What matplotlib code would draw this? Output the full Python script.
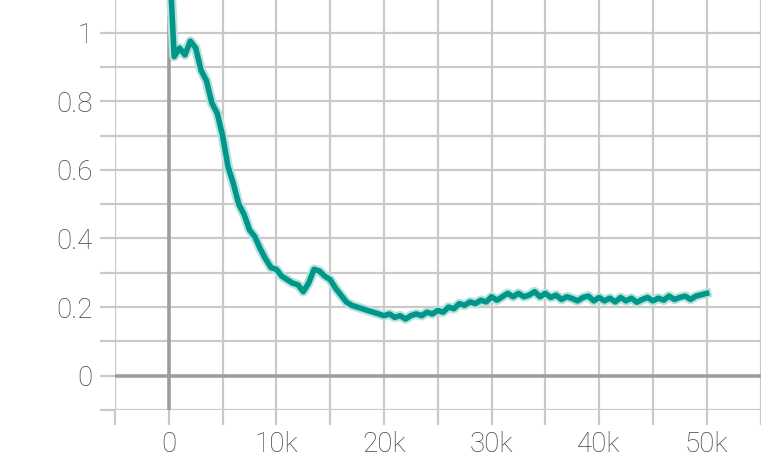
import numpy as np
import matplotlib.pyplot as plt
from matplotlib.ticker import MultipleLocator, FuncFormatter

# training steps and smoothed values
steps = np.arange(0, 50001, 500)
values = [
    1.25, 0.93, 0.955, 0.935, 0.975, 0.955, 0.89, 0.86, 0.795, 0.765,
    0.70, 0.61, 0.56, 0.50, 0.47, 0.425, 0.405, 0.37, 0.34, 0.315,
    0.31, 0.29, 0.28, 0.27, 0.265, 0.245, 0.27, 0.31, 0.305, 0.29,
    0.28, 0.255, 0.235, 0.215, 0.205, 0.20, 0.195, 0.19, 0.185, 0.18,
    0.175, 0.18, 0.17, 0.175, 0.165, 0.175, 0.18, 0.175, 0.185, 0.18,
    0.19, 0.185, 0.20, 0.195, 0.21, 0.205, 0.215, 0.21, 0.22, 0.215,
    0.23, 0.22, 0.23, 0.24, 0.23, 0.24, 0.23, 0.235, 0.245, 0.23,
    0.24, 0.228, 0.235, 0.222, 0.23, 0.225, 0.218, 0.228, 0.232, 0.218,
    0.228, 0.218, 0.226, 0.215, 0.228, 0.218, 0.226, 0.214, 0.222, 0.228,
    0.218, 0.226, 0.22, 0.232, 0.222, 0.228, 0.232, 0.222, 0.232, 0.236,
    0.24,
]

plt.rcParams['font.family'] = ['Roboto', 'DejaVu Sans']

fig = plt.figure(figsize=(7.61, 4.61), dpi=100)
ax = fig.add_axes([115 / 761, 51 / 461, 645.5 / 761, 410 / 461])

ax.set_xlim(-5000, 55000)
ax.set_ylim(-0.1, 1.095)

grid_col = '#c9c9c9'
ax.xaxis.set_major_locator(MultipleLocator(10000))
ax.xaxis.set_minor_locator(MultipleLocator(5000))
ax.yaxis.set_major_locator(MultipleLocator(0.2))
ax.yaxis.set_minor_locator(MultipleLocator(0.1))
ax.grid(True, which='both', color=grid_col, lw=1.6)
ax.set_axisbelow(True)

ax.xaxis.set_major_formatter(FuncFormatter(lambda v, p: '0' if v == 0 else f'{int(v / 1000)}k'))
ax.yaxis.set_major_formatter(FuncFormatter(lambda v, p: f'{v:.1f}'.rstrip('0').rstrip('.') if abs(v) > 1e-9 else '0'))

ax.tick_params(which='both', length=11, width=1.6, color=grid_col)
ax.tick_params(axis='x', which='major', pad=4)
ax.tick_params(axis='y', which='major', pad=5)
ax.tick_params(which='major', labelsize=20, labelcolor='#444444')
for lab in ax.get_xticklabels() + ax.get_yticklabels():
    lab.set_fontweight('light')

for s in ax.spines.values():
    s.set_visible(False)

# zero lines
ax.axhline(0, color='#9e9e9e', lw=2.6, zorder=1.5)
ax.axvline(0, color='#9e9e9e', lw=2.6, zorder=1.5)

# faint raw band and smoothed line
ax.plot(steps, values, color='#b7e3dc', lw=7, zorder=2)
ax.plot(steps, values, color='#00968a', lw=4, zorder=3)

fig.savefig('out.png', dpi=100)
